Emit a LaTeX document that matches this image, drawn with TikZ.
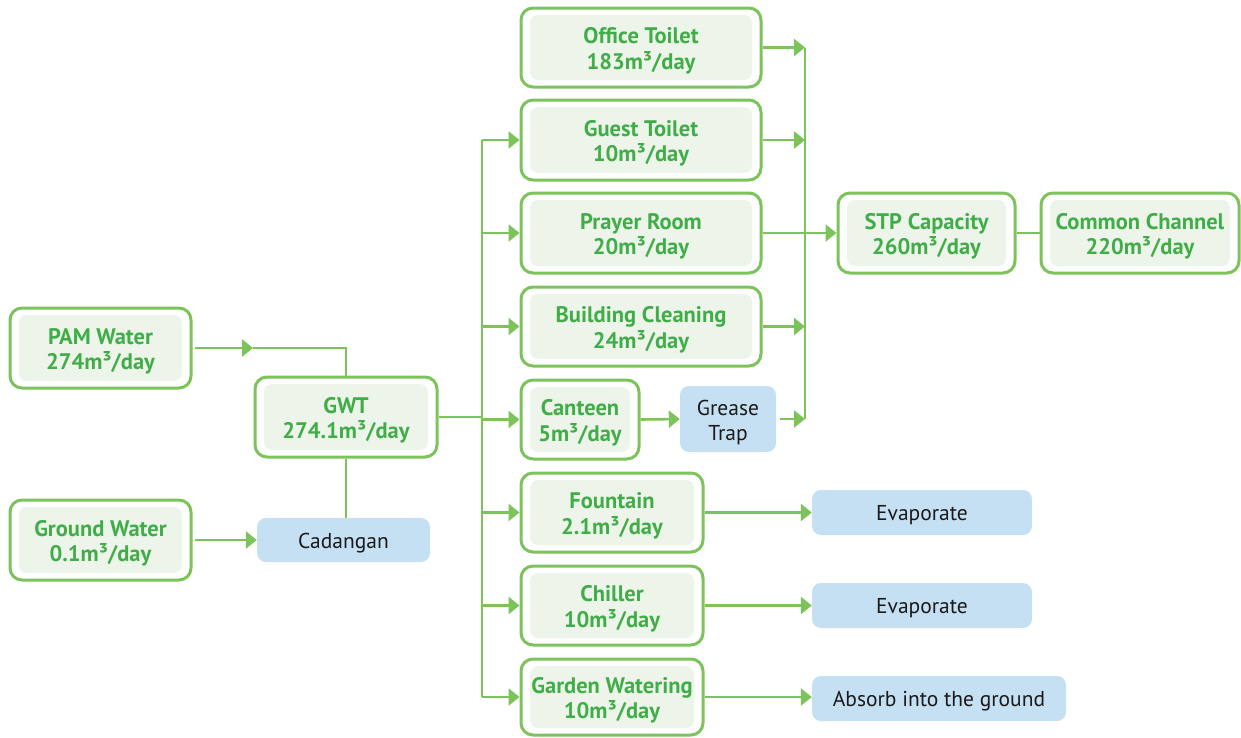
\documentclass[tikz,border=0pt]{standalone}
\usepackage{fontspec}
\setmainfont{PT Sans}
\usetikzlibrary{arrows.meta}
\definecolor{gline}{HTML}{7DC35B}
\definecolor{gtext}{HTML}{41AD49}
\definecolor{gfill}{HTML}{EDF5EA}
\definecolor{bfill}{HTML}{C5DFF3}
\definecolor{btext}{HTML}{1A1A1A}
\newcommand{\hstrut}{\rule{0pt}{22.5pt}}
\tikzset{
 gbox/.style={draw=gline, line width=3pt, fill=white, rounded corners=12pt, text=gtext,
   font=\bfseries\fontsize{22.5}{25.5}\selectfont, align=center, inner sep=0pt,
   path picture={\fill[gfill, rounded corners=8pt] ([shift={(9pt,-7pt)}]path picture bounding box.north west) rectangle ([shift={(-9pt,7pt)}]path picture bounding box.south east);}},
 bbox/.style={fill=bfill, rounded corners=9pt, text=btext, font=\fontsize{21.5}{25}\selectfont, align=center, inner sep=0pt},
 flow/.style={draw=gline, line width=2.6pt},
 arr/.style={-{Triangle[length=11pt,width=17pt]}}
}
\begin{document}
\begin{tikzpicture}[x=1pt,y=-1pt]
\useasboundingbox (0,0) rectangle (1241,737);
% nodes
\node[gbox, minimum width=181pt, minimum height=80pt] (pam) at (100.5,348) {\hstrut PAM Water\\274m³/day};
\node[gbox, minimum width=181pt, minimum height=80pt] (ground) at (100.5,540) {\hstrut Ground Water\\0.1m³/day};
\node[gbox, minimum width=182pt, minimum height=80pt] (gwt) at (346,417) {\hstrut GWT\\274.1m³/day};
\node[bbox, minimum width=173pt, minimum height=44pt] (cad) at (343.5,540) {\rule{0pt}{21pt}Cadangan};
\node[gbox, minimum width=240pt, minimum height=79pt] (office) at (641,47.5) {\hstrut Office Toilet\\183m³/day};
\node[gbox, minimum width=240pt, minimum height=80pt] (guest) at (641,140) {\hstrut Guest Toilet\\10m³/day};
\node[gbox, minimum width=240pt, minimum height=80pt] (prayer) at (641,233) {\hstrut Prayer Room\\20m³/day};
\node[gbox, minimum width=240pt, minimum height=79pt] (building) at (641,326.5) {\hstrut Building Cleaning\\24m³/day};
\node[gbox, minimum width=118pt, minimum height=79pt] (canteen) at (580,419.5) {\hstrut Canteen\\5m³/day};
\node[bbox, minimum width=96pt, minimum height=66pt] (grease) at (728,419) {\rule{0pt}{21.5pt}Grease\\Trap};
\node[gbox, minimum width=182pt, minimum height=79pt] (fountain) at (612,512.5) {\hstrut Fountain\\2.1m³/day};
\node[gbox, minimum width=182pt, minimum height=79pt] (chiller) at (612,605.5) {\hstrut Chiller\\10m³/day};
\node[gbox, minimum width=182pt, minimum height=76pt] (garden) at (612,697) {\hstrut Garden Watering\\10m³/day};
\node[bbox, minimum width=220pt, minimum height=45pt] (evap1) at (922,512.5) {\rule{0pt}{21pt}Evaporate};
\node[bbox, minimum width=220pt, minimum height=45pt] (evap2) at (922,605.5) {\rule{0pt}{21pt}Evaporate};
\node[bbox, minimum width=254pt, minimum height=45pt] (absorb) at (939,698.5) {\rule{0pt}{21pt}Absorb into the ground};
\node[gbox, minimum width=177pt, minimum height=80pt] (stp) at (926.5,233) {\hstrut STP Capacity\\260m³/day};
\node[gbox, minimum width=198pt, minimum height=80pt] (common) at (1140,233) {\hstrut Common Channel\\220m³/day};
% helper coordinates
\coordinate (pamarr) at (253,348);
\coordinate (trunkT) at (482,140);
\coordinate (trunkB) at (482,697);
\coordinate (collT) at (805,47.5);
\coordinate (collB) at (805,419);
% left side
\draw[flow,arr,shorten <=2pt] (pam.east) -- (pamarr);
\draw[flow] (pamarr) -- (pamarr -| gwt.north) -- (gwt.north);
\draw[flow] (gwt.south) -- (gwt.south |- cad.north);
\draw[flow,arr,shorten <=2pt] (ground.east) -- (cad.west);
% trunk
\draw[flow] (gwt.east) -- (gwt.east -| trunkT);
\draw[flow] (trunkT) -- (trunkB);
\foreach \n in {guest,prayer,building,canteen,fountain,chiller,garden}
  \draw[flow,arr] (\n.west -| trunkT) -- (\n.west);
% collector
\draw[flow] (collT) -- (collB);
\foreach \n in {office,guest,building}
  \draw[flow,arr] (\n.east) -- (\n.east -| collT);
\draw[flow,arr,shorten <=4pt] (grease.east) -- (collB);
\draw[flow,arr] (canteen.east) -- (grease.west);
\draw[flow,arr] (prayer.east) -- (stp.west);
\draw[flow] (stp.east) -- (common.west);
% outflows
\draw[flow,arr] (fountain.east) -- (evap1.west);
\draw[flow,arr] (chiller.east) -- (evap2.west);
\draw[flow,arr] (garden.east) -- (garden.east -| absorb.west);
\end{tikzpicture}
\end{document}
